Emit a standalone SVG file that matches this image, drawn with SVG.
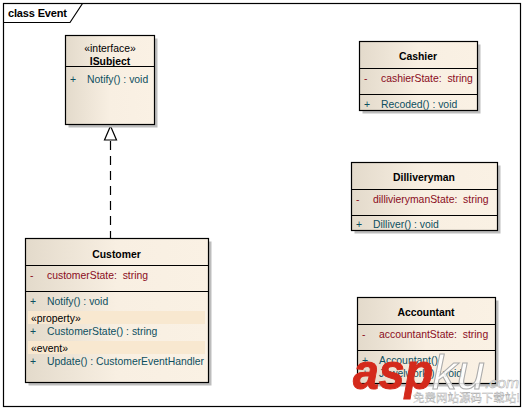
<svg xmlns="http://www.w3.org/2000/svg" width="523" height="410" viewBox="0 0 523 410">
<style>
text{font-family:"Liberation Sans",Arial,sans-serif;font-size:10.4px;fill:#000;white-space:pre}
.b{font-weight:bold;text-anchor:middle}
.c{text-anchor:middle}
.op{fill:#0d4f5f}
.at{fill:#8a0c1c}
.box{fill:url(#g);stroke:#000;stroke-width:1.2}
.sh{fill:#bdbdbd}
.ln{stroke:#000;stroke-width:1.2;fill:none}
.st{fill:#f8e8d0}
.wm{font-style:italic;fill:#fff;fill-opacity:.85;stroke:#aaa}
</style>
<defs>
<linearGradient id="g" x1="0" y1="0" x2="1" y2="0"><stop offset="0" stop-color="#e3dacb"/><stop offset="0.5" stop-color="#f8efe2"/><stop offset="1" stop-color="#faf1e4"/></linearGradient>
</defs>
<rect width="523" height="410" fill="#fff"/>
<g id="frame">
<rect x="3.500" y="3.500" width="517" height="403" fill="#fff" stroke="#000" stroke-width="1.2"/>
<path d="M3.500 22.500H70L82.500 3.500" class="ln"/>
<text x="8" y="16.500" style="font-weight:bold;font-size:11px" textLength="59">class Event</text>
</g>
<g id="connectors">
<path d="M110.500 141V238" class="ln" stroke-dasharray="9 6"/>
<path d="M110.500 126L104.500 140H116.500Z" fill="#fff" stroke="#000" stroke-width="1.2"/>
</g>
<g id="ISubject">
<rect x="68.500" y="38.500" width="89" height="89" class="sh"/>
<rect x="65.500" y="35.500" width="89" height="89" class="box"/>
<path d="M65.500 66.500H154.500" class="ln"/>
<text x="110" y="52" class="c">«interface»</text>
<text x="110" y="64.500" class="b">ISubject</text>
<text x="70" y="83" class="op">+</text>
<text x="87" y="83" class="op">Notify() : void</text>
</g>
<g id="Customer">
<rect x="28.500" y="241.500" width="183" height="144" class="sh"/>
<rect x="25.500" y="238.500" width="183" height="144" class="box"/>
<path d="M25.500 265.500H208.500M25.500 291.500H208.500" class="ln"/>
<rect x="28" y="311" width="177" height="13" class="st"/>
<rect x="28" y="341" width="177" height="13" class="st"/>
<text x="116.500" y="258" class="b">Customer</text>
<text x="30" y="279" class="at">-</text>
<text x="47" y="279" class="at">customerState:  string</text>
<text x="30" y="305" class="op">+</text>
<text x="47" y="305" class="op">Notify() : void</text>
<text x="31" y="322">«property»</text>
<text x="30" y="335" class="op">+</text>
<text x="47" y="335" class="op">CustomerState() : string</text>
<text x="31" y="352">«event»</text>
<text x="30" y="365" class="op">+</text>
<text x="47" y="365" class="op">Update() : CustomerEventHandler</text>
</g>
<g id="Cashier">
<rect x="362.500" y="44.500" width="118" height="69" class="sh"/>
<rect x="359.500" y="41.500" width="118" height="69" class="box"/>
<path d="M359.500 68.500H477.500M359.500 94.500H477.500" class="ln"/>
<text x="418" y="60" class="b">Cashier</text>
<text x="364" y="82" class="at">-</text>
<text x="381" y="82" class="at">cashierState:  string</text>
<text x="364" y="108" class="op">+</text>
<text x="381" y="108" class="op">Recoded() : void</text>
</g>
<g id="Dilliveryman">
<rect x="354.500" y="165.500" width="146" height="68" class="sh"/>
<rect x="351.500" y="162.500" width="146" height="68" class="box"/>
<path d="M351.500 189.500H497.500M351.500 215.500H497.500" class="ln"/>
<text x="424" y="181" class="b">Dilliveryman</text>
<text x="356" y="203" class="at">-</text>
<text x="373" y="203" class="at">dillivierymanState:  string</text>
<text x="356" y="228" class="op">+</text>
<text x="373" y="228" class="op">Dilliver() : void</text>
</g>
<g id="Accountant">
<rect x="360.500" y="300.500" width="138" height="86" class="sh"/>
<rect x="357.500" y="297.500" width="138" height="86" class="box"/>
<path d="M357.500 324.500H495.500M357.500 350.500H495.500" class="ln"/>
<text x="426" y="316" class="b">Accountant</text>
<text x="362" y="338" class="at">-</text>
<text x="379" y="338" class="at">accountantState:  string</text>
<text x="362" y="364" class="op">+</text>
<text x="379" y="364" class="op">Accountant()</text>
<text x="362" y="377" class="op">+</text>
<text x="379" y="377" class="op">Jewelwork() : void</text>
</g>
<g id="watermark">
<text x="353" y="389" style="font-size:50px;font-weight:bold;font-style:italic;fill:#d42a1c;stroke:#d42a1c;stroke-width:1" textLength="80" lengthAdjust="spacingAndGlyphs">asp</text>
<text x="432" y="389" class="wm" style="font-size:48px;stroke-width:1" textLength="53" lengthAdjust="spacingAndGlyphs">ku</text>
<text x="485" y="388" class="wm" style="font-size:15px;stroke-width:.5" textLength="34" lengthAdjust="spacingAndGlyphs">.com</text>
<text x="413" y="402" class="wm" style="font-family:'Noto Sans CJK SC',sans-serif;font-style:normal;font-size:11.500px;stroke-width:.4" textLength="107">免费网站源码下载站!</text>
</g>
</svg>
